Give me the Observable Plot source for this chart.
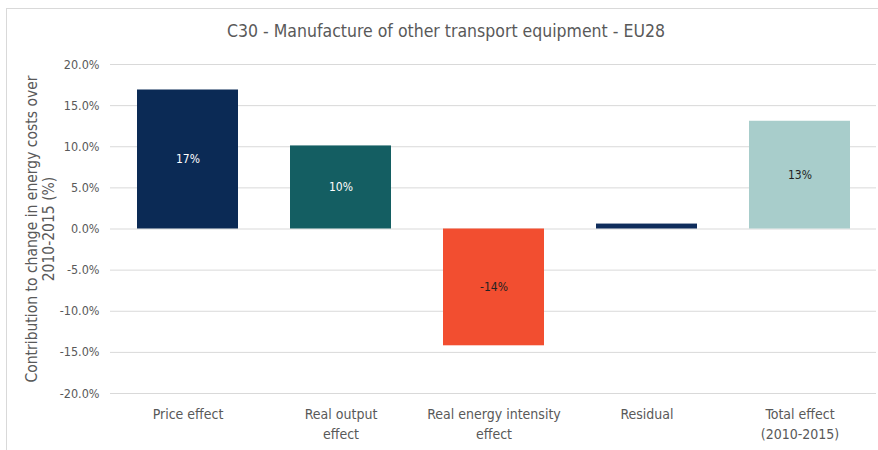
<!DOCTYPE html>
<html>
<head>
<meta charset="utf-8">
<script src="https://cdn.jsdelivr.net/npm/d3@7"></script>
<script src="https://cdn.jsdelivr.net/npm/@observablehq/plot@0.6"></script>
<style>
  body { margin: 0; background: #fff; }
  #wrap { position: relative; width: 878px; height: 450px; overflow: hidden; font-family: "DejaVu Sans Condensed", "DejaVu Sans", sans-serif; }
  #frame { position: absolute; left: 6px; top: 8px; width: 900px; height: 500px; border-top: 1px solid #d9d9d9; border-left: 1px solid #d9d9d9; }
  #title { position: absolute; top: 21px; left: 0; width: 892px; text-align: center; font-size: 17.5px; color: #595959; }
  #chart { position: absolute; left: 0; top: 0; }
</style>
</head>
<body>
<div id="wrap">
  <div id="frame"></div>
  <div id="title">C30 - Manufacture of other transport equipment - EU28</div>
  <div id="chart"></div>
</div>
<script>
const categories = ["Price effect", "Real output effect", "Real energy intensity effect", "Residual", "Total effect (2010-2015)"];
const tickLabels = ["Price effect", "Real output\neffect", "Real energy intensity\neffect", "Residual", "Total effect\n(2010-2015)"];
const values = [0.169, 0.101, -0.142, 0.006, 0.131];
const barLabels = ["17%", "10%", "-14%", "", "13%"];
const colors = ["#0b2a55", "#145e62", "#f24e30", "#0f2d5c", "#a8cdcb"];
const labelColors = ["#ffffff", "#ffffff", "#222222", "#ffffff", "#222222"];
const yTicks = [0.2, 0.15, 0.1, 0.05, 0, -0.05, -0.1, -0.15, -0.2];

const data = categories.map((c, i) => ({cat: c, value: values[i], label: barLabels[i], color: colors[i], lc: labelColors[i]}));
const tickMap = new Map(categories.map((c, i) => [c, tickLabels[i]]));

const plot = Plot.plot({
  width: 878,
  height: 450,
  marginLeft: 110,
  marginRight: 2,
  marginTop: 64,
  marginBottom: 57,
  style: {fontFamily: "'DejaVu Sans Condensed', 'DejaVu Sans', sans-serif", fontSize: "12.5px", color: "#595959", background: "transparent"},
  x: {domain: categories, paddingInner: 0.34, paddingOuter: 0.17, label: null},
  y: {domain: [-0.2, 0.2], label: null},
  marks: [
    Plot.gridY(yTicks, {stroke: "#d9d9d9", strokeOpacity: 1}),
    Plot.axisY(yTicks, {tickSize: 0, tickPadding: 11, tickFormat: d => (d * 100).toFixed(1) + "%", fontSize: 12.5, label: null}),
    Plot.axisX({tickSize: 0, tickPadding: 12, tickFormat: d => tickMap.get(d), fontSize: 14, lineHeight: 1.4, label: null}),
    Plot.barY(data, {x: "cat", y: "value", fill: "color"}),
    Plot.text(data, {x: "cat", y: d => d.value / 2, text: "label", fill: "lc", fontSize: 12, fontFamily: "'Liberation Sans Narrow', 'DejaVu Sans Condensed', sans-serif"}),
    Plot.text(["Contribution to change in energy costs over\n2010-2015 (%)"], {frameAnchor: "left", textAnchor: "middle", dx: -70, rotate: -90, fontSize: 15.5, fill: "#595959", lineHeight: 1.1})
  ]
});
document.getElementById("chart").appendChild(plot);
</script>
</body>
</html>
